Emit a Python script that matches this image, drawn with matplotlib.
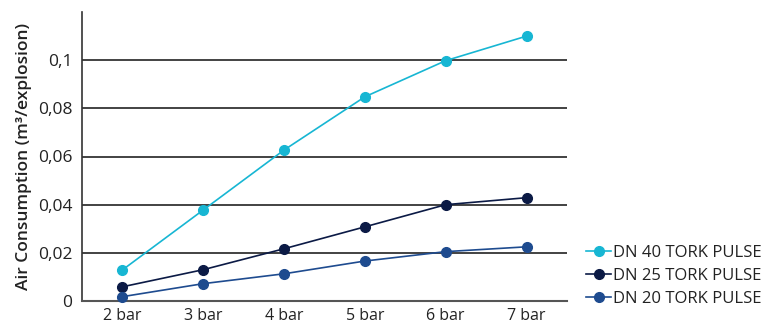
import matplotlib
matplotlib.use("Agg")
import matplotlib.pyplot as plt

categories = ["2 bar", "3 bar", "4 bar", "5 bar", "6 bar", "7 bar"]
pressures = [2, 3, 4, 5, 6, 7]
dn40 = [0.0129, 0.0378, 0.0627, 0.0848, 0.0998, 0.1100]
dn25 = [0.0059, 0.0130, 0.0217, 0.0308, 0.0400, 0.0429]
dn20 = [0.0018, 0.0072, 0.0113, 0.0166, 0.0205, 0.0225]
series_names = ["DN 40 TORK PULSE", "DN 25 TORK PULSE", "DN 20 TORK PULSE"]
yticks = [0, 0.02, 0.04, 0.06, 0.08, 0.1]
ytick_labels = ["0", "0,02", "0,04", "0,06", "0,08", "0,1"]

colors = ["#17b6d3", "#0b1a45", "#1e4b8f"]

plt.rcParams['font.family'] = ['Open Sans', 'DejaVu Sans']

fig = plt.figure(figsize=(7.63, 3.23), dpi=100)
ax = fig.add_axes([82/763, 22/323, (567-82)/763, (301-12)/323])

for vals, c, name in zip([dn40, dn25, dn20], colors, series_names):
    ax.plot(pressures, vals, color=c, lw=1.2, marker='o', markersize=7,
            label=name, clip_on=False, zorder=3)

ax.set_xlim(1.5, 7.5)
ax.set_ylim(0, 0.12)
ax.set_xticks(pressures)
ax.set_xticklabels(categories, fontsize=11.5, color="#222222")
ax.set_yticks(yticks)
ax.set_yticklabels(ytick_labels, fontsize=12.5, color="#222222")
ax.tick_params(axis='x', length=0, pad=5)
ax.tick_params(axis='y', length=0, pad=7)

for y in yticks[1:]:
    ax.axhline(y, color="#222222", lw=1.2, zorder=1)

for s in ["top", "right"]:
    ax.spines[s].set_visible(False)
ax.spines["left"].set_color("#333333")
ax.spines["left"].set_linewidth(1.2)
ax.spines["bottom"].set_color("#555555")
ax.spines["bottom"].set_linewidth(1.5)

ax.set_ylabel("Air Consumption (m\u00b3/explosion)", fontsize=12.5,
              fontweight='semibold', color="#222222", labelpad=4)

leg = fig.legend(loc="lower left", bbox_to_anchor=(578/763, 8/323),
                 frameon=False, fontsize=12, handlelength=1.5,
                 handletextpad=0.1, labelspacing=0.42, borderaxespad=0.1)
for t in leg.get_texts():
    t.set_color("#222222")

fig.savefig("out.png", dpi=100)
